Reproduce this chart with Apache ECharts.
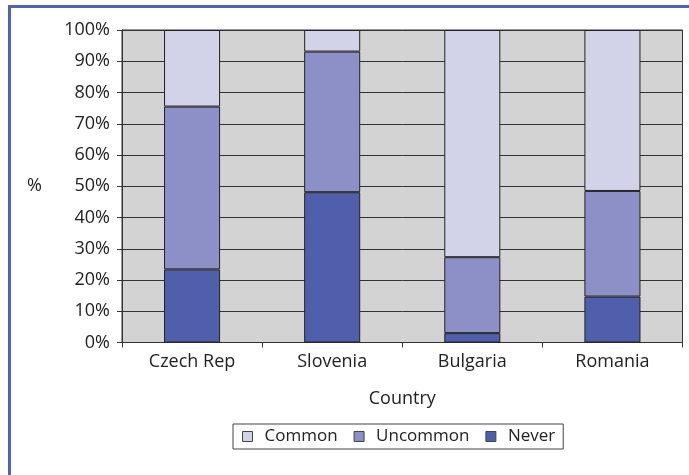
<!DOCTYPE html>
<html>
<head>
<meta charset="utf-8">
<script src="https://cdn.jsdelivr.net/npm/echarts@6/dist/echarts.min.js"></script>
<style>
  html, body { margin: 0; padding: 0; background: #fff; }
  #chart { width: 689px; height: 475px; }
</style>
</head>
<body>
<div id="chart"></div>
<script>
// data
const countries = ['Czech Rep', 'Slovenia', 'Bulgaria', 'Romania']
const never = [23.4, 48.1, 3.0, 14.7]
const uncommon = [52.1, 45.0, 24.3, 33.8]
const common = [24.5, 6.9, 72.7, 51.5]
const yTicks = [0, 10, 20, 30, 40, 50, 60, 70, 80, 90, 100]

const font = 'Open Sans'
const fontSize = 18
const textColor = '#222'

const chart = echarts.init(document.getElementById('chart'))

const barStyle = (color) => ({ color: color, borderColor: '#222', borderWidth: 1 })

chart.setOption({
  animation: false,
  textStyle: { fontFamily: font, color: textColor },
  // blue frame on the left and top only
  graphic: [
    { type: 'rect', shape: { x: 8, y: 5, width: 3, height: 470 }, style: { fill: '#5262b3' } },
    { type: 'rect', shape: { x: 8, y: 5, width: 681, height: 3 }, style: { fill: '#5262b3' } }
  ],
  grid: {
    left: 122,
    right: 6.5,
    top: 30,
    bottom: 132.5,
    show: true,
    backgroundColor: '#d3d3d3',
    borderColor: '#333',
    borderWidth: 1
  },
  legend: {
    data: ['Common', 'Uncommon', 'Never'],
    left: 233,
    top: 424,
    orient: 'horizontal',
    itemWidth: 10,
    itemHeight: 10,
    itemGap: 16,
    padding: [4, 8, 4, 9],
    borderColor: '#444',
    borderWidth: 1,
    icon: 'rect',
    textStyle: { fontFamily: font, fontSize: 17, color: textColor, padding: [0, 0, 0, 7] },
    itemStyle: { borderColor: '#444', borderWidth: 1 }
  },
  xAxis: {
    type: 'category',
    data: countries,
    name: 'Country',
    nameLocation: 'middle',
    nameGap: 47,
    nameTextStyle: { fontFamily: font, fontSize: fontSize, color: textColor },
    axisLine: { lineStyle: { color: '#333' } },
    axisTick: { show: true, length: 5, lineStyle: { color: '#333' } },
    axisLabel: { fontFamily: font, fontSize: fontSize, color: textColor, margin: 10 }
  },
  yAxis: {
    type: 'value',
    min: 0,
    max: 100,
    interval: 10,
    name: '%',
    nameLocation: 'middle',
    nameRotate: 0,
    nameGap: 80,
    nameTextStyle: { fontFamily: font, fontSize: fontSize, color: textColor },
    axisLine: { show: true, lineStyle: { color: '#333' } },
    axisTick: { show: true, length: 5, lineStyle: { color: '#333' } },
    axisLabel: {
      fontFamily: font, fontSize: fontSize, color: textColor, margin: 12,
      formatter: (v) => (yTicks.includes(v) ? v + '%' : '')
    },
    splitLine: { show: true, lineStyle: { color: '#333', width: 1 } }
  },
  series: [
    { name: 'Never', type: 'bar', stack: 'all', data: never, barWidth: '40%', itemStyle: barStyle('#505fac') },
    { name: 'Uncommon', type: 'bar', stack: 'all', data: uncommon, barWidth: '40%', itemStyle: barStyle('#8c90c6') },
    { name: 'Common', type: 'bar', stack: 'all', data: common, barWidth: '40%', itemStyle: barStyle('#d2d3e8') }
  ]
})
</script>
</body>
</html>
